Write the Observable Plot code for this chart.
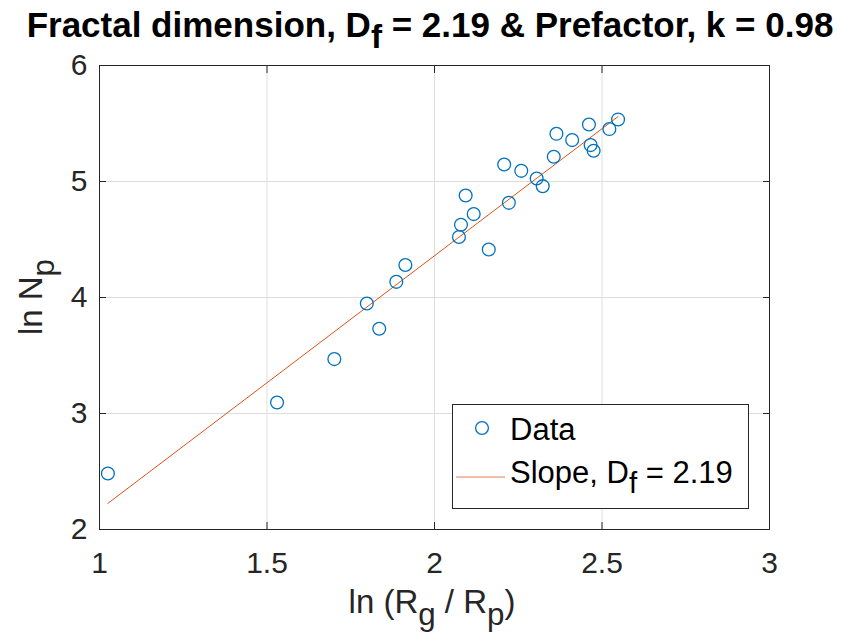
<!DOCTYPE html>
<html><head><meta charset="utf-8">
<script src="https://cdn.jsdelivr.net/npm/d3@7"></script>
<script src="https://cdn.jsdelivr.net/npm/@observablehq/plot@0.6"></script>
<style>body{margin:0;background:#fff;} svg{display:block}</style>
</head><body><div id="chart"></div>
<script>
// Data
const lnRatio = [1.025, 1.530, 1.701, 1.798, 1.835, 1.886, 1.913, 2.073, 2.079, 2.093, 2.117, 2.162, 2.208, 2.222, 2.259, 2.305, 2.323, 2.356, 2.364, 2.411, 2.461, 2.466, 2.475, 2.522, 2.548];
const lnN     = [2.483, 3.095, 3.469, 3.948, 3.731, 4.135, 4.280, 4.522, 4.627, 4.879, 4.719, 4.414, 5.147, 4.816, 5.092, 5.026, 4.960, 5.213, 5.411, 5.357, 5.491, 5.314, 5.265, 5.452, 5.535];
const fitX = [1.025, 2.548];
const fitY = [2.225, 5.560];
const xTicks = [1, 1.5, 2, 2.5, 3];
const yTicks = [2, 3, 4, 5, 6];
const Df = "2.19";
const kPref = "0.98";

const points = lnRatio.map((x, i) => ({x, y: lnN[i]}));
const fit = fitX.map((x, i) => ({x, y: fitY[i]}));

const font = "'Liberation Sans', Arial, Helvetica, sans-serif";
const axisColor = "#262626";
const blue = "#0072BD", orange = "#D95319";

const plot = Plot.plot({
  width: 842, height: 642,
  marginTop: 65, marginLeft: 99, marginRight: 73, marginBottom: 113,
  style: {fontFamily: font, background: "#fff", color: axisColor},
  x: {domain: [1, 3], label: null},
  y: {domain: [2, 6], label: null},
  marks: [
    Plot.gridX(xTicks, {stroke: "#dedede", strokeOpacity: 1}),
    Plot.gridY(yTicks, {stroke: "#dedede", strokeOpacity: 1}),
    Plot.line(fit, {x: "x", y: "y", stroke: orange, strokeWidth: 1}),
    Plot.dot(points, {x: "x", y: "y", r: 6.4, stroke: blue, strokeWidth: 1.3, fill: "none"}),
    Plot.frame({stroke: axisColor, strokeWidth: 1}),
    Plot.axisX(xTicks, {anchor: "bottom", tickSize: -7, tickPadding: 29, fontSize: 30, stroke: axisColor, fill: axisColor, label: null, tickFormat: d => String(d)}),
    Plot.axisX(xTicks, {anchor: "top", tickSize: -7, tickFormat: () => "", stroke: axisColor, label: null}),
    Plot.axisY(yTicks, {anchor: "left", tickSize: -7, tickPadding: 19, fontSize: 30, stroke: axisColor, fill: axisColor, label: null, tickFormat: d => String(d)}),
    Plot.axisY(yTicks, {anchor: "right", tickSize: -7, tickFormat: () => "", stroke: axisColor, label: null})
  ]
});

const svg = d3.select(plot);

function addText(x, y, parts, opts = {}) {
  const size = opts.size || 30;
  const subDy = opts.subDy || 10;
  const t = svg.append("text")
    .attr("x", x).attr("y", y)
    .attr("font-family", font)
    .attr("font-size", size)
    .attr("font-weight", opts.weight || "normal")
    .attr("fill", opts.fill || "#000")
    .attr("text-anchor", opts.anchor || "start");
  if (opts.rotate) t.attr("transform", `rotate(-90 ${x} ${y})`);
  for (const p of parts) {
    const ts = t.append("tspan").text(p.t);
    if (p.sub) ts.attr("dy", subDy).attr("font-size", size * (opts.subScale || 0.95));
    if (p.back) ts.attr("dy", -subDy);
  }
  return t;
}

// Title
addText(430, 37, [
  {t: "Fractal dimension, D"}, {t: "f", sub: true}, {t: " = " + Df + " & Prefactor, k = " + kPref, back: true}
], {size: 35, weight: "bold", anchor: "middle", fill: "#000", subDy: 11});

// X label
addText(432, 613, [
  {t: "ln (R"}, {t: "g", sub: true}, {t: " / R", back: true}, {t: "p", sub: true}, {t: ")", back: true}
], {size: 33, anchor: "middle", fill: axisColor, subDy: 12});

// Y label
addText(42, 297, [
  {t: "ln N"}, {t: "p", sub: true}
], {size: 33, anchor: "middle", fill: axisColor, rotate: true, subDy: 12});

// Legend
const lg = svg.append("g");
lg.append("rect").attr("x", 452.5).attr("y", 404.5).attr("width", 296).attr("height", 104)
  .attr("fill", "#fff").attr("stroke", axisColor).attr("stroke-width", 1);
lg.append("circle").attr("cx", 482).attr("cy", 428).attr("r", 6.4)
  .attr("fill", "none").attr("stroke", blue).attr("stroke-width", 1.3);
lg.append("line").attr("x1", 456).attr("x2", 505).attr("y1", 477).attr("y2", 477)
  .attr("stroke", orange).attr("stroke-width", 1).attr("stroke-opacity", 0.75);
addText(510, 440, [{t: "Data"}], {size: 31});
addText(510, 483, [{t: "Slope, D"}, {t: "f", sub: true}, {t: " = " + Df, back: true}], {size: 31, subDy: 10});

document.getElementById("chart").appendChild(plot);
</script>
</body></html>
